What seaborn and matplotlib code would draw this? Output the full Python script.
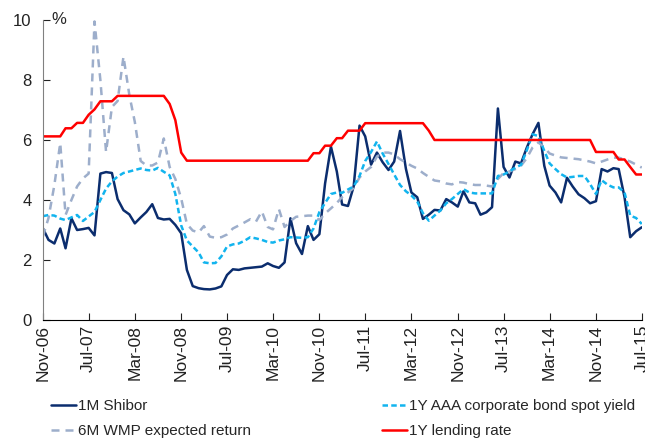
import pandas as pd
import matplotlib.pyplot as plt
import seaborn as sns

# monthly data, Nov-06 .. Jul-15
dates = pd.date_range("2006-11-01", "2015-07-01", freq="MS")

shibor_1m = [
    3.06, 2.67, 2.55, 3.05, 2.39, 3.39, 3.00, 3.03, 3.07, 2.82,
    4.88, 4.93, 4.90, 4.03, 3.66, 3.52, 3.22, 3.42, 3.60, 3.86,
    3.40, 3.35, 3.37, 3.17, 2.89, 1.67, 1.13, 1.06, 1.03, 1.02,
    1.05, 1.12, 1.50, 1.69, 1.67, 1.72, 1.74, 1.76, 1.78, 1.89,
    1.80, 1.74, 1.92, 3.39, 2.56, 2.20, 3.13, 2.67, 2.86, 4.55,
    5.78, 4.95, 3.85, 3.80, 4.45, 6.48, 6.12, 5.18, 5.58, 5.26,
    5.00, 5.28, 6.30, 5.04, 4.25, 4.09, 3.37, 3.51, 3.67, 3.65,
    4.03, 3.92, 3.78, 4.29, 3.92, 3.89, 3.51, 3.59, 3.76, 7.05,
    5.10, 4.75, 5.28, 5.22, 5.75, 6.19, 6.57, 5.14, 4.48, 4.25,
    3.92, 4.74, 4.45, 4.19, 4.06, 3.89, 3.96, 5.03, 4.95, 5.06,
    5.03, 4.09, 2.76, 2.96, 3.09,
]

aaa_1y = [
    3.46, 3.50, 3.48, 3.38, 3.33, 3.42, 3.50, 3.30, 3.45, 3.60,
    4.00, 4.38, 4.62, 4.78, 4.90, 4.95, 5.00, 5.05, 5.00, 4.98,
    5.07, 4.94, 4.82, 4.20, 3.15, 2.65, 2.45, 2.25, 1.92, 1.89,
    1.90, 2.12, 2.45, 2.52, 2.55, 2.64, 2.76, 2.72, 2.67, 2.60,
    2.58, 2.65, 2.69, 2.76, 2.75, 2.74, 2.76, 3.05, 3.60, 3.90,
    4.20, 4.25, 4.24, 4.35, 4.45, 4.80, 5.30, 5.60, 5.95, 5.55,
    5.20, 4.85, 4.50, 4.29, 4.15, 3.95, 3.56, 3.31, 3.48, 3.65,
    3.89, 4.03, 4.20, 4.36, 4.25, 4.22, 4.22, 4.22, 4.22, 4.80,
    4.85, 4.95, 5.08, 5.17, 5.66, 6.19, 6.13, 5.64, 5.22, 5.03,
    4.86, 4.75, 4.77, 4.80, 4.80, 4.53, 4.20, 4.66, 4.51, 4.42,
    4.42, 4.25, 3.48, 3.40, 3.20,
]

wmp_6m = [
    2.78, 3.40, 4.50, 5.90, 3.50, 4.00, 4.45, 4.72, 4.88, 9.95,
    8.00, 5.60, 7.10, 7.30, 8.78, 7.50, 6.60, 5.30, 5.15, 5.15,
    5.25, 6.05, 5.10, 4.70, 4.05, 3.20, 2.98, 2.92, 3.13, 2.78,
    2.74, 2.76, 2.85, 3.05, 3.15, 3.25, 3.36, 3.28, 3.62, 3.10,
    3.02, 3.70, 3.10, 3.30, 3.44, 3.46, 3.48, 3.48, 3.33, 3.55,
    3.72, 3.90, 4.10, 4.25, 4.40, 4.75, 4.95, 5.10, 5.45, 5.58,
    5.58, 5.52, 5.36, 5.25, 5.14, 5.05, 4.90, 4.77, 4.65, 4.62,
    4.55, 4.52, 4.60, 4.58, 4.53, 4.50, 4.50, 4.48, 4.45, 4.70,
    4.90, 4.95, 5.03, 5.14, 5.40, 5.75, 5.92, 5.75, 5.55, 5.48,
    5.42, 5.40, 5.38, 5.36, 5.32, 5.28, 5.22, 5.28, 5.35, 5.41,
    5.41, 5.35, 5.28, 5.18, 5.08,
]

lending_1y = (
    [6.12] * 4 + [6.39] * 2 + [6.57] * 2 + [6.84, 7.02] + [7.29] * 3
    + [7.47] * 9 + [7.20, 6.66, 5.58] + [5.31] * 22 + [5.56] * 2
    + [5.81] * 2 + [6.06] * 2 + [6.31] * 3 + [6.56] * 11 + [6.31]
    + [6.00] * 28 + [5.60] * 4 + [5.35] * 2 + [5.10] + [4.85] * 2
)

tick_dates = pd.date_range("2006-11-01", "2015-07-01", freq="8MS")
tick_labels = [d.strftime("%b-%y") for d in tick_dates]

sns.set_style("ticks")
plt.rcParams["font.family"] = ["Liberation Sans", "DejaVu Sans"]

fig = plt.figure(figsize=(6.45, 4.38), dpi=100)
ax = fig.add_axes([0.0664, 0.2694, 0.9286, 0.685])

sns.lineplot(x=dates, y=shibor_1m, ax=ax, color="#0B2D6E", lw=1.8, label="1M Shibor")
sns.lineplot(x=dates, y=wmp_6m, ax=ax, color="#9DAECB", lw=1.8,
             linestyle=(0, (3.2, 2.4)), label="6M WMP expected return")
sns.lineplot(x=dates, y=aaa_1y, ax=ax, color="#12B4EE", lw=1.8,
             linestyle=(0, (2.2, 1.3)), label="1Y AAA corporate bond spot yield")
sns.lineplot(x=dates, y=lending_1y, ax=ax, color="#FF0000", lw=1.8, label="1Y lending rate")

ax.set_xlim(dates[0], dates[-1])
ax.set_ylim(0, 10)
ax.set_yticks([0, 2, 4, 6, 8, 10])
ax.set_xticks(tick_dates)
ax.set_xticklabels(tick_labels, rotation=90)
ax.tick_params(axis="both", direction="in", labelsize=12.5, length=5, colors="#222222")
ax.tick_params(axis="y", labelsize=12, pad=8)
ax.set_xlabel("")
ax.set_ylabel("")
ax.text(0.015, 1.0, "%", transform=ax.transAxes, fontsize=12, va="center", ha="left")

for side in ["top", "right"]:
    ax.spines[side].set_visible(False)
ax.spines["left"].set_color("#808080")
ax.spines["bottom"].set_color("#000000")

ax.get_legend().remove()
handles, labels = ax.get_legend_handles_labels()
fig.legend(handles, labels, ncol=2, loc="upper left", bbox_to_anchor=(0.079, 0.088),
           frameon=False, fontsize=11, handlelength=1.65, handletextpad=0.12,
           columnspacing=8.55, labelspacing=0.7, borderpad=0, borderaxespad=0)

fig.savefig("out.png", dpi=100)
